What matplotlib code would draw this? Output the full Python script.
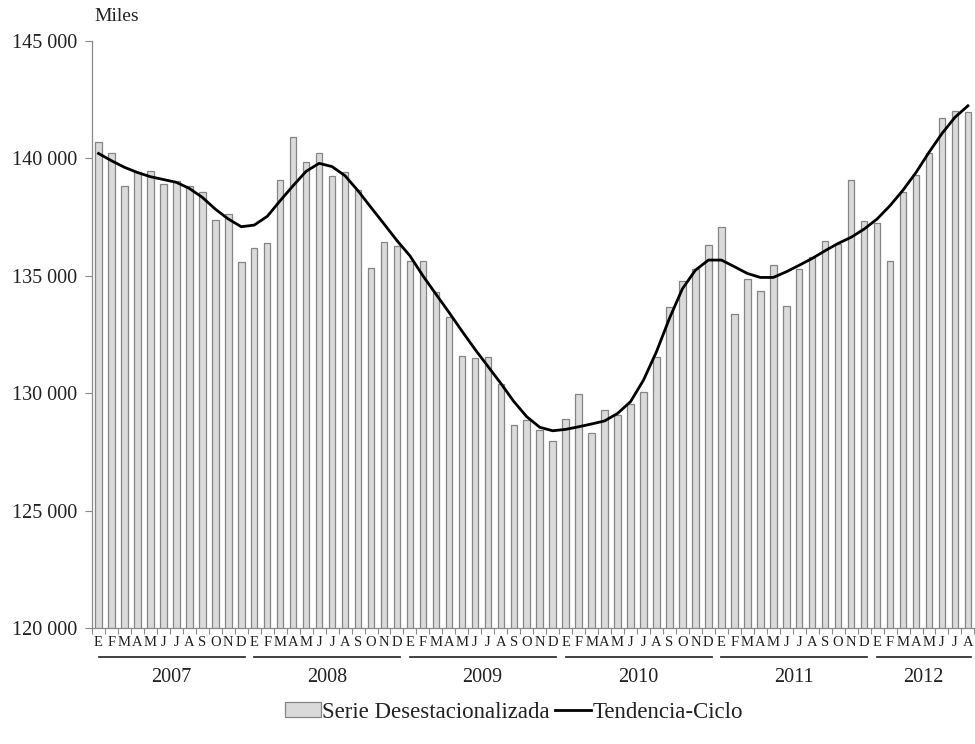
import matplotlib
matplotlib.use('Agg')
import matplotlib.pyplot as plt
from matplotlib.ticker import FuncFormatter, FixedLocator
import numpy as np

plt.rcParams['font.family'] = ['Liberation Serif', 'DejaVu Serif']

# data (miles de personas), enero 2007 - agosto 2012
years = ['2007', '2008', '2009', '2010', '2011', '2012']
months = ['E', 'F', 'M', 'A', 'M', 'J', 'J', 'A', 'S', 'O', 'N', 'D']
months_per_year = [12, 12, 12, 12, 12, 8]

serie_desest = [
    140680, 140230, 138820, 139430, 139480, 138890, 139020, 138820, 138580, 137380, 137640, 135600,
    136180, 136410, 139080, 140900, 139860, 140230, 139250, 139430, 138650, 135330, 136450, 136260,
    135650, 135640, 134300, 133240, 131580, 131490, 131530, 130390, 128630, 128860, 128450, 127980,
    128910, 129950, 128290, 129300, 129060, 129540, 130050, 131560, 133690, 134770, 135300, 136310,
    137060, 133370, 134860, 134370, 135460, 133730, 135300, 135800, 136470, 136340, 139080, 137320,
    137250, 135650, 138550, 139290, 140210, 141700, 142030, 141990,
]
tendencia_ciclo = [
    140210, 139900, 139620, 139400, 139220, 139100, 138980, 138720, 138340, 137840, 137420, 137090,
    137160, 137530, 138200, 138840, 139450, 139790, 139650, 139260, 138620, 137910, 137210, 136500,
    135850, 135000, 134220, 133450, 132650, 131880, 131150, 130420, 129650, 129000, 128550, 128400,
    128460, 128570, 128690, 128820, 129140, 129640, 130560, 131770, 133190, 134450, 135240, 135670,
    135670, 135390, 135100, 134930, 134930, 135170, 135450, 135740, 136070, 136380, 136640, 136990,
    137420, 137990, 138650, 139400, 140260, 141060, 141750, 142240,
]

month_labels = []
for n in months_per_year:
    month_labels += months[:n]
x = np.arange(len(serie_desest))

fig = plt.figure(figsize=(9.75, 7.44), dpi=100)
ax = fig.add_axes([0.0944, 0.1559, 0.905, 0.789])

text_color = '#222222'
axis_color = '#8a8a8a'

bars = ax.bar(x, serie_desest, width=0.5, color='#dadada', edgecolor='#858585',
              linewidth=0.9, label='Serie Desestacionalizada', zorder=2)
line, = ax.plot(x, tendencia_ciclo, color='black', linewidth=2.0, label='Tendencia-Ciclo', zorder=3)

ax.set_ylim(120000, 145000)
ax.set_xlim(-0.5, len(x) - 0.5)
ax.set_yticks(np.arange(120000, 145001, 5000))
ax.yaxis.set_major_formatter(FuncFormatter(lambda v, p: f'{int(v):,}'.replace(',', ' ')))

ax.set_xticks(x)
ax.set_xticklabels(month_labels, fontsize=10.5, color=text_color)
ax.xaxis.set_minor_locator(FixedLocator(np.arange(-0.5, len(x), 1.0)))
ax.tick_params(axis='x', which='major', length=0, pad=6)
ax.tick_params(axis='x', which='minor', length=4, color=axis_color, width=0.8)
ax.tick_params(axis='y', length=5, color=axis_color, width=0.8, labelsize=14.5,
               labelcolor=text_color, pad=6)

for side in ['top', 'right']:
    ax.spines[side].set_visible(False)
for side in ['left', 'bottom']:
    ax.spines[side].set_color(axis_color)
    ax.spines[side].set_linewidth(0.9)

# year lines and labels under the month letters
trans = ax.get_xaxis_transform()
start = 0
for yr, n in zip(years, months_per_year):
    end = start + n - 1
    ax.plot([start, end + 0.25], [-0.049, -0.049], color='#333333', linewidth=1.3,
            transform=trans, clip_on=False)
    ax.text((start + end) / 2 + 0.1, -0.084, yr, transform=trans, ha='center', va='center',
            fontsize=14.5, color=text_color)
    start = end + 1

fig.text(0.12, 0.978, 'Miles', ha='center', va='center', fontsize=14, color=text_color)

fig.legend(handles=[bars, line], loc='center', bbox_to_anchor=(0.527, 0.043), ncol=2,
           frameon=False, fontsize=16.5, handlelength=1.6, handleheight=0.6,
           handletextpad=0.05, columnspacing=0.2, labelcolor=text_color)

fig.savefig('out.png', dpi=100, facecolor='white')
plt.close(fig)
